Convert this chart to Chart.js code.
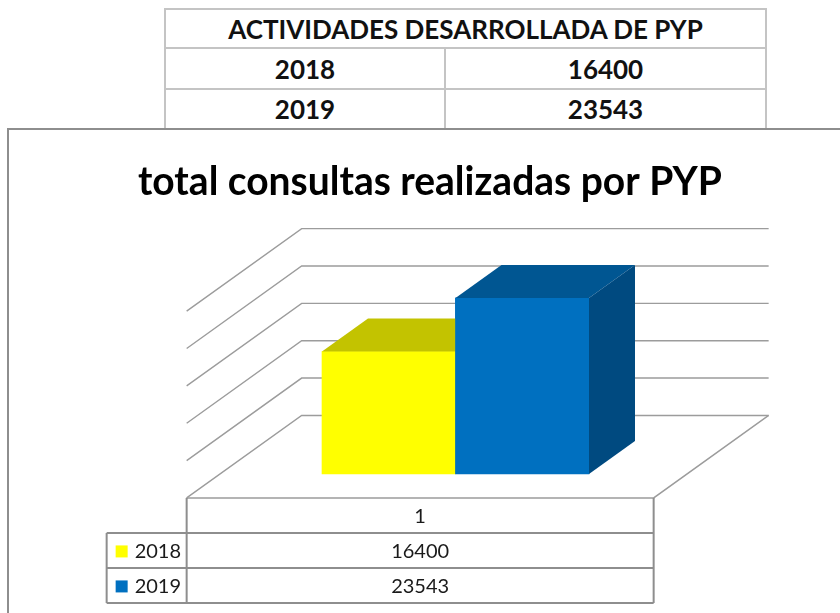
<!DOCTYPE html>
<html>
<head>
<meta charset="utf-8">
<title>total consultas realizadas por PYP</title>
<script src="https://cdn.jsdelivr.net/npm/chart.js@4.4.1/dist/chart.umd.min.js"></script>
<style>
  body { margin: 0; width: 840px; height: 613px; overflow: hidden; position: relative; background: #fff; font-family: Lato, sans-serif; }
  #box { position: absolute; left: 7px; top: 128px; width: 900px; height: 600px; border: 2px solid #8e8e8e; box-sizing: border-box; }
  #chart { position: absolute; left: 0; top: 0; }
  #summary { position: absolute; left: 164px; top: 8px; width: 603px; border-collapse: collapse; }
  #summary td { border: 2px solid #c4c4c4; font-weight: bold; font-size: 26px; text-align: center; padding: 0; color: #111; }
</style>
</head>
<body>
<table id="summary"></table>
<div id="box"></div>
<canvas id="chart" width="840" height="613"></canvas>
<script>
// data
const tableTitle = "ACTIVIDADES DESARROLLADA DE PYP";
const categories = ["1"];
const years = ["2018", "2019"];
const values2018 = [16400];
const values2019 = [23543];
const yMax = 25000;
const yStep = 5000;

// top summary table
const summary = document.getElementById("summary");
let rows = '<tr style="height:39px"><td colspan="2">' + tableTitle + "</td></tr>";
[values2018, values2019].forEach(function (vals, i) {
  rows += '<tr style="height:' + (i === 0 ? 41 : 40) + 'px"><td style="width:278px">' + years[i] + "</td><td>" + vals[0] + "</td></tr>";
});
summary.innerHTML = rows;

// 3d look: depth of the floor, bar planes as fractions of it
const depthX = 115, depthY = -82.5;
const barFront = 0.29, barBack = 0.69;
const padLeft = 102, padRight = 98;
const gridColor = "#9c9c9c";
const tableLine = "#8e8e8e";

const pseudo3d = {
  id: "pseudo3d",
  beforeDatasetsDraw(chart) {
    const { ctx, chartArea, scales } = chart;
    const y = scales.y;
    const L = chartArea.left - padLeft, R = chartArea.right + padRight;
    const bx = (1 - barFront) * depthX, by = (1 - barFront) * depthY;
    const fx = -barFront * depthX, fy = -barFront * depthY;
    ctx.save();
    ctx.strokeStyle = gridColor;
    ctx.lineWidth = 1.4;
    y.ticks.forEach(function (t) {
      const py = y.getPixelForValue(t.value);
      ctx.beginPath();
      ctx.moveTo(R + bx, py + by);
      ctx.lineTo(L + bx, py + by);
      ctx.lineTo(L + fx, py + fy);
      ctx.stroke();
    });
    // floor front and right edges
    const base = y.getPixelForValue(0);
    ctx.beginPath();
    ctx.moveTo(L + fx, base + fy);
    ctx.lineTo(R + fx, base + fy);
    ctx.lineTo(R + bx, base + by);
    ctx.stroke();
    ctx.restore();
  },
  afterDatasetsDraw(chart) {
    // redraw fronts left to right, each followed by its top and side
    const { ctx } = chart;
    const dx = (barBack - barFront) * depthX, dy = (barBack - barFront) * depthY;
    ctx.save();
    chart.data.datasets.forEach(function (ds, i) {
      chart.getDatasetMeta(i).data.forEach(function (bar) {
        bar.draw(ctx);
        const l = bar.x - bar.width / 2, r = bar.x + bar.width / 2;
        ctx.fillStyle = ds.topColor;
        ctx.beginPath();
        ctx.moveTo(l, bar.y);
        ctx.lineTo(r, bar.y);
        ctx.lineTo(r + dx, bar.y + dy);
        ctx.lineTo(l + dx, bar.y + dy);
        ctx.closePath();
        ctx.fill();
        ctx.fillStyle = ds.sideColor;
        ctx.beginPath();
        ctx.moveTo(r, bar.y);
        ctx.lineTo(r + dx, bar.y + dy);
        ctx.lineTo(r + dx, bar.base + dy);
        ctx.lineTo(r, bar.base);
        ctx.closePath();
        ctx.fill();
      });
    });
    ctx.restore();
  },
  afterDraw(chart) {
    // data table under the floor
    const { ctx, chartArea, scales } = chart;
    const fx = -barFront * depthX, fy = -barFront * depthY;
    const left = chartArea.left - padLeft + fx;
    const right = chartArea.right + padRight + fx;
    const top = scales.y.getPixelForValue(0) + fy;
    const rowH = 35, keyW = 80;
    const rowsY = [top, top + rowH, top + rowH * 2, top + rowH * 3];
    ctx.save();
    ctx.strokeStyle = tableLine;
    ctx.lineWidth = 2;
    ctx.beginPath();
    ctx.moveTo(left, top); ctx.lineTo(left, rowsY[3]);
    ctx.moveTo(right, top); ctx.lineTo(right, rowsY[3]);
    ctx.moveTo(left - keyW, rowsY[1]); ctx.lineTo(left - keyW, rowsY[3]);
    for (let i = 1; i < 4; i++) {
      ctx.moveTo(left - keyW, rowsY[i]); ctx.lineTo(right, rowsY[i]);
    }
    ctx.stroke();
    ctx.font = "20px Lato";
    ctx.fillStyle = "#1a1a1a";
    ctx.textAlign = "center";
    ctx.textBaseline = "middle";
    const mid = (left + right) / 2;
    ctx.fillText(chart.data.labels[0], mid, top + rowH / 2 + 1);
    chart.data.datasets.forEach(function (ds, i) {
      const cy = rowsY[i + 1] + rowH / 2 + 1;
      ctx.textAlign = "center";
      ctx.fillStyle = "#1a1a1a";
      ctx.fillText(String(ds.data[0]), mid, cy);
      ctx.fillStyle = ds.backgroundColor;
      ctx.fillRect(left - keyW + 9, cy - 6, 12, 12);
      ctx.fillStyle = "#1a1a1a";
      ctx.textAlign = "left";
      ctx.fillText(ds.label, left - keyW + 28, cy);
    });
    ctx.restore();
  }
};

Chart.defaults.font.family = "Lato";

new Chart(document.getElementById("chart"), {
  type: "bar",
  data: {
    labels: categories,
    datasets: [
      { label: years[0], data: values2018, backgroundColor: "#ffff00", topColor: "#c3c300", sideColor: "#a8a800" },
      { label: years[1], data: values2019, backgroundColor: "#0070c0", topColor: "#005692", sideColor: "#004a80" }
    ]
  },
  options: {
    responsive: false,
    animation: false,
    layout: { padding: { left: 138, right: 118, top: 140, bottom: 139 } },
    datasets: { bar: { categoryPercentage: 1, barPercentage: 1, borderWidth: 0 } },
    scales: {
      x: { display: false },
      y: {
        min: 0,
        max: yMax,
        ticks: { display: false, stepSize: yStep },
        grid: { display: false },
        border: { display: false },
        afterFit: function (scale) { scale.width = 184; }
      },
      yRight: {
        position: "right",
        min: 0,
        max: yMax,
        ticks: { display: false },
        grid: { display: false },
        border: { display: false },
        afterFit: function (scale) { scale.width = 133; }
      }
    },
    plugins: {
      legend: { display: false },
      tooltip: { enabled: false },
      title: {
        display: true,
        text: "total consultas realizadas por PYP",
        color: "#000",
        font: { size: 41, weight: "bold", family: "Lato" },
        padding: { top: 17, bottom: 81 }
      }
    }
  },
  plugins: [pseudo3d]
});
</script>
</body>
</html>
